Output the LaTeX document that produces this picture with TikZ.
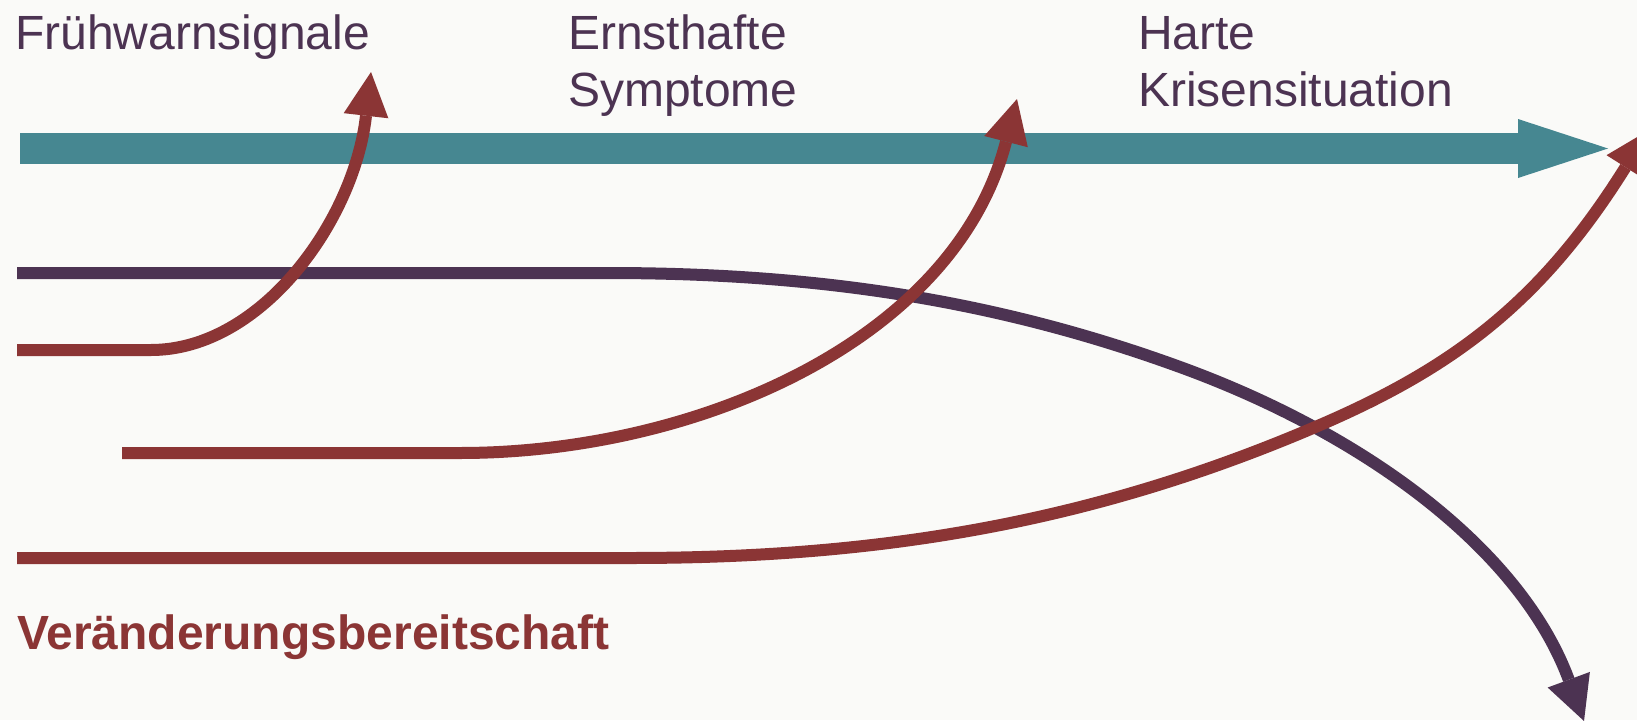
\documentclass[tikz,border=0pt]{standalone}
\usepackage{fontspec}
\setmainfont{Liberation Sans}
\usetikzlibrary{arrows.meta}
\definecolor{purp}{HTML}{4C3352}
\definecolor{rust}{HTML}{8B3535}
\definecolor{tealc}{HTML}{468791}
\definecolor{bgc}{HTML}{FAFAF8}
\begin{document}
\begin{tikzpicture}[x=1pt,y=-1pt,
  lbl/.style={font=\fontsize{48}{57}\selectfont, text=purp, inner sep=0pt, anchor=base west, align=left},
  flow/.style={line width=12pt, -{Triangle[length=44pt,width=45pt,line width=0pt]}},
  axis/.style={line width=31pt, tealc, -{Triangle[length=90pt,width=59pt,line width=0pt]}},
]
\fill[bgc] (0,0) rectangle (1637,720);
\useasboundingbox (0,0) rectangle (1637,720);
\clip (0,0) rectangle (1637,720);

% coordinates
\coordinate (tl) at (20,148.5);
\coordinate (tr) at (1608,148.5);
\coordinate (ps) at (17,273);
\coordinate (pk) at (607,273);
\coordinate (pm) at (1180,367);
\coordinate (pe) at (1584,721);
\coordinate (r1s) at (17,350);
\coordinate (r1k) at (151,350);
\coordinate (r1e) at (371,72);
\coordinate (r2s) at (122,453);
\coordinate (r2k) at (460,453);
\coordinate (r2e) at (1017,99);
\coordinate (r3s) at (17,558);
\coordinate (r3k) at (630,558);
\coordinate (r3m) at (1313,428);
\coordinate (r3b) at (1625,168);
\coordinate (r3e) at (1649,130);

% time axis
\draw[axis] (tl) -- (tr);

% purple line
\draw[flow, purp] (ps) -- (pk) .. controls (812,273) and (992,298.6) .. (pm)
  .. controls (1368,435.4) and (1521.3,551.2) .. (pe);

% red lines
\draw[flow, rust] (r1s) -- (r1k) .. controls (261,350) and (354,221) .. (r1e);
\draw[flow, rust] (r2s) -- (r2k) .. controls (695,453) and (954.5,341.5) .. (r2e);
\draw[flow, rust] (r3s) -- (r3k) .. controls (870,558) and (1083,526) .. (r3m)
  .. controls (1451,369.4) and (1540,303.7) .. (r3b) -- (r3e);

% labels
\node[lbl] (t1) at (15,49) {Frühwarnsignale};
\node[lbl] (t2) at (568,106) {Ernsthafte\\Symptome};
\node[lbl] (t3) at (1138,106) {Harte\\Krisensituation};
\node[lbl, text=rust, font=\fontsize{48}{57}\selectfont\bfseries] (t4) at (17,649) {Veränderungsbereitschaft};
\end{tikzpicture}
\end{document}
